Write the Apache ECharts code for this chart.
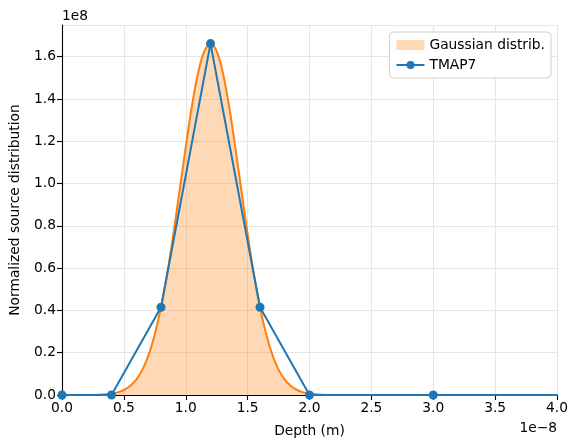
<!DOCTYPE html>
<html><head><meta charset="utf-8">
<script src="https://cdn.jsdelivr.net/npm/echarts@6/dist/echarts.min.js"></script>
<style>html,body{margin:0;padding:0;background:#fff}#c{width:578px;height:448px}</style>
</head><body><div id="c"></div>
<script>
// Depth in units of 1e-8 m, distribution in units of 1e8
const gaussX = [0, 0.2, 0.3, 0.4, 0.45, 0.5, 0.55, 0.6, 0.65, 0.7, 0.75, 0.8, 0.85, 0.9, 0.95, 1.0, 1.05, 1.1, 1.15, 1.2,
  1.25, 1.3, 1.35, 1.4, 1.45, 1.5, 1.55, 1.6, 1.65, 1.7, 1.75, 1.8, 1.85, 1.9, 1.95, 2.0, 2.1, 2.2, 4.0];
const gaussY = [0, 0.0003, 0.0015, 0.0064, 0.0126, 0.0236, 0.0425, 0.073, 0.120, 0.190, 0.287, 0.415, 0.574, 0.761, 0.966, 1.174, 1.367, 1.524, 1.626, 1.662,
  1.626, 1.524, 1.367, 1.174, 0.966, 0.761, 0.574, 0.415, 0.287, 0.190, 0.120, 0.073, 0.0425, 0.0236, 0.0126, 0.0064, 0.0015, 0.0003, 0];
const tmapX = [0, 0.4, 0.8, 1.2, 1.6, 2.0, 3.0, 5.0];
const tmapY = [0, 0, 0.415, 1.662, 0.415, 0, 0, 0];
const xTicks = ['0.0','0.5','1.0','1.5','2.0','2.5','3.0','3.5','4.0'];
const yTicks = ['0.0','0.2','0.4','0.6','0.8','1.0','1.2','1.4','1.6'];

const FONT = 'DejaVu Sans';
const FS = 13.8;
const chart = echarts.init(document.getElementById('c'), null, {renderer: 'canvas'});
const zip = (a, b) => a.map((v, i) => [v, b[i]]);
chart.setOption({
  animation: false,
  textStyle: {fontFamily: FONT},
  grid: {left: 62, right: 21, top: 25, bottom: 53, containLabel: false},
  xAxis: {
    type: 'value', min: 0, max: 4, interval: 0.5,
    name: 'Depth (m)', nameLocation: 'middle', nameGap: 29,
    nameTextStyle: {fontFamily: FONT, fontSize: FS, color: '#000'},
    axisLine: {show: true, lineStyle: {color: '#000', width: 1.1}},
    axisTick: {show: true, length: 5, lineStyle: {color: '#000', width: 1.1}},
    axisLabel: {fontFamily: FONT, fontSize: FS, color: '#000', margin: 6,
      formatter: v => xTicks[Math.round(v / 0.5)] || ''},
    splitLine: {show: true, lineStyle: {color: '#e6e6e6', width: 1}}
  },
  yAxis: {
    type: 'value', min: 0, max: 1.75, interval: 0.2,
    name: 'Normalized source distribution', nameLocation: 'middle', nameGap: 40,
    nameTextStyle: {fontFamily: FONT, fontSize: FS, color: '#000'},
    axisLine: {show: true, lineStyle: {color: '#000', width: 1.1}},
    axisTick: {show: true, length: 5, lineStyle: {color: '#000', width: 1.1}},
    axisLabel: {fontFamily: FONT, fontSize: FS, color: '#000', margin: 6, showMaxLabel: false,
      formatter: v => { const i = Math.round(v / 0.2); return Math.abs(i * 0.2 - v) < 1e-6 ? (yTicks[i] || '') : ''; }},
    splitLine: {show: true, lineStyle: {color: '#e6e6e6', width: 1}}
  },
  legend: {
    right: 27, top: 32, orient: 'vertical', itemGap: 6, itemWidth: 28, itemHeight: 10,
    backgroundColor: '#fff', borderColor: '#d0d0d0', borderWidth: 1, borderRadius: 4,
    padding: [6, 6, 6, 6],
    textStyle: {fontFamily: FONT, fontSize: FS, color: '#000'},
    data: [
      {name: 'Gaussian distrib.', icon: 'rect', itemStyle: {color: 'rgba(255,127,14,0.3)', borderWidth: 0}},
      {name: 'TMAP7'}
    ]
  },
  series: [
    {
      name: 'Gaussian distrib.', type: 'line', data: zip(gaussX, gaussY), smooth: 0.3,
      showSymbol: false, symbol: 'none', clip: true,
      lineStyle: {color: '#ff7f0e', width: 2},
      itemStyle: {color: '#ff7f0e'},
      areaStyle: {color: 'rgba(255,127,14,0.3)', opacity: 1}, z: 2
    },
    {
      name: 'TMAP7', type: 'line', data: zip(tmapX, tmapY), clip: true,
      symbol: 'circle', symbolSize: 9, showAllSymbol: true,
      lineStyle: {color: '#1f77b4', width: 2},
      itemStyle: {color: '#1f77b4'}, z: 3
    }
  ],
  graphic: [
    {type: 'text', left: 62, top: 9, style: {text: '1e8', font: FS + 'px "DejaVu Sans"', fill: '#000'}},
    {type: 'text', right: 21, top: 421, style: {text: '1e\u22128', font: FS + 'px "DejaVu Sans"', fill: '#000'}}
  ]
});
</script></body></html>
